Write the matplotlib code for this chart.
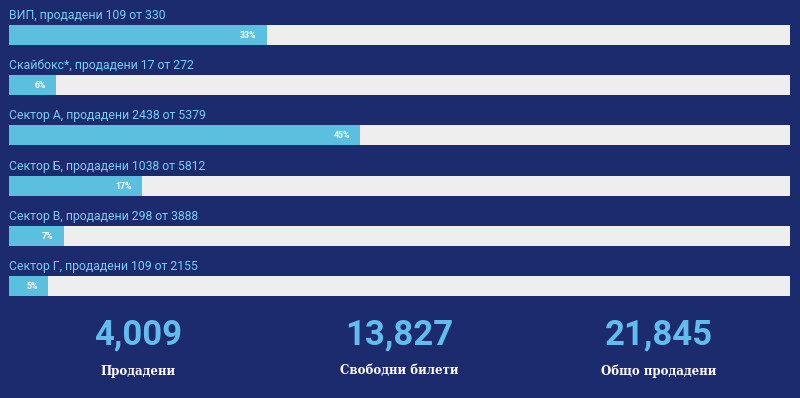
import matplotlib.pyplot as plt

# Data
labels = ["ВИП", "Скайбокс*", "Сектор А", "Сектор Б", "Сектор В", "Сектор Г"]
sold = [109, 17, 2438, 1038, 298, 109]
total = [330, 272, 5379, 5812, 3888, 2155]
pct = [33, 6, 45, 17, 7, 5]

stat_values = ["4,009", "13,827", "21,845"]
stat_labels = ["Продадени", "Свободни билети", "Общо продадени"]

# Colours
bg = "#1c2a6e"
fill = "#5bc0e0"
track = "#eeeeee"
label_col = "#7ccdf4"
num_col = "#62bdee"

fig = plt.figure(figsize=(8, 3.98), dpi=100, facecolor=bg)
ax = fig.add_axes([0, 0, 1, 1])
ax.set_facecolor(bg)
ax.set_xlim(0, 800)
ax.set_ylim(398, 0)
ax.axis("off")

left = 9
width = 781
row0 = 35
step = 50.2

for i in range(len(labels)):
    yc = row0 + i * step
    ax.barh(yc, width, left=left, height=20, color=track, linewidth=0)
    w = width * pct[i] / 100
    ax.barh(yc, w, left=left, height=20, color=fill, linewidth=0)
    ax.text(left + w - 10, yc + 0.5, f"{pct[i]}%", color="white", fontsize=6.3,
            fontweight="bold", family="Roboto", ha="right", va="center")
    ax.text(left, yc - 13, f"{labels[i]}, продадени {sold[i]} от {total[i]}",
            color=label_col, fontsize=8.8, family="Roboto", ha="left", va="bottom")

centers = [138, 399, 659]
for c, v, l in zip(centers, stat_values, stat_labels):
    ax.text(c, 335, v, color=num_col, fontsize=25, fontweight="bold",
            family="Roboto", ha="center", va="center")
    ax.text(c, 371, l, color="white", fontsize=8.5, family="DejaVu Serif",
            fontweight="bold", ha="center", va="center")

fig.savefig("out.png", dpi=100, facecolor=bg)
